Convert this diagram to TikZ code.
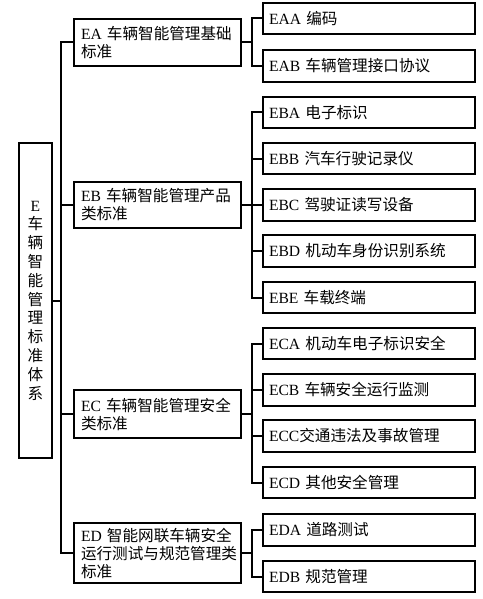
\documentclass[tikz,border=0pt]{standalone}
\usepackage{fontspec}
\setmainfont{Liberation Serif}
\newfontfamily\cjk{Noto Sans CJK SC}
\newcommand{\zh}[1]{{\cjk #1}}
\usetikzlibrary{positioning}
\tikzset{
  box/.style={draw,line width=2pt,inner ysep=0pt,font=\fontsize{15.6}{18}\selectfont},
  rootbox/.style={box,minimum width=33pt,minimum height=315pt,align=center,inner xsep=0pt,font=\fontsize{15.6}{18.8}\selectfont},
  catbox/.style={box,text width=153pt,inner xsep=7pt,align=left},
  leafbox/.style={box,text width=200pt,inner xsep=6pt,minimum height=31.5pt,align=left},
  link/.style={line width=2pt}
}
\begin{document}
\begin{tikzpicture}[x=1pt,y=-1pt]
    \useasboundingbox (0,0) rectangle (482,599);
    % root
    \node[rootbox] (E) at (35.5,300.5) {E\\\zh{车}\\\zh{辆}\\\zh{智}\\\zh{能}\\\zh{管}\\\zh{理}\\\zh{标}\\\zh{准}\\\zh{体}\\\zh{系}};
    % categories
    \node[catbox,minimum height=47pt] (EA) at (157.5,42.5) {EA \zh{车辆智能管理基础}\\\zh{标准}};
    \node[catbox,minimum height=46pt] (EB) at (157.5,205) {EB \zh{车辆智能管理产品}\\\zh{类标准}};
    \node[catbox,minimum height=48pt] (EC) at (157.5,414) {EC \zh{车辆智能管理安全}\\\zh{类标准}};
    \node[catbox,minimum height=60pt] (ED) at (157.5,553) {ED \zh{智能网联车辆安全}\\\zh{运行测试与规范管理类}\\\zh{标准}};
    % leaves
    \node[leafbox] (EAA) at (369,18.5) {EAA \zh{编码}};
    \node[leafbox] (EAB) at (369,66) {EAB \zh{车辆管理接口协议}};
    \node[leafbox] (EBA) at (369,112.5) {EBA \zh{电子标识}};
    \node[leafbox] (EBB) at (369,158.5) {EBB \zh{汽车行驶记录仪}};
    \node[leafbox] (EBC) at (369,205) {EBC \zh{驾驶证读写设备}};
    \node[leafbox] (EBD) at (369,251) {EBD \zh{机动车身份识别系统}};
    \node[leafbox] (EBE) at (369,297.5) {EBE \zh{车载终端}};
    \node[leafbox] (ECA) at (369,343.5) {ECA \zh{机动车电子标识安全}};
    \node[leafbox] (ECB) at (369,390) {ECB \zh{车辆安全运行监测}};
    \node[leafbox] (ECC) at (369,436) {ECC\zh{交通违法及事故管理}};
    \node[leafbox] (ECD) at (369,482.5) {ECD \zh{其他安全管理}};
    \node[leafbox] (EDA) at (369,530) {EDA \zh{道路测试}};
    \node[leafbox] (EDB) at (369,576.5) {EDB \zh{规范管理}};
    % trunk
    \draw[link] (EA.west) -- ++(-12,0) coordinate (t) |- (ED.west);
    \draw[link] (E.east) -- (E.east -| t);
    \foreach \n in {EB,EC} \draw[link] (\n.west) -- (\n.west -| t);
    % brackets
    \foreach \p/\a/\b in {EA/EAA/EAB,EB/EBA/EBE,EC/ECA/ECD,ED/EDA/EDB} {
      \draw[link] (\a.west) -- ++(-10,0) coordinate (k) |- (\b.west);
      \draw[link] (\p.east) -- (\p.east -| k);
    }
    \foreach \n in {EBB,EBC,EBD,ECB,ECC} \draw[link] (\n.west) -- ++(-10,0);
\end{tikzpicture}
\end{document}
